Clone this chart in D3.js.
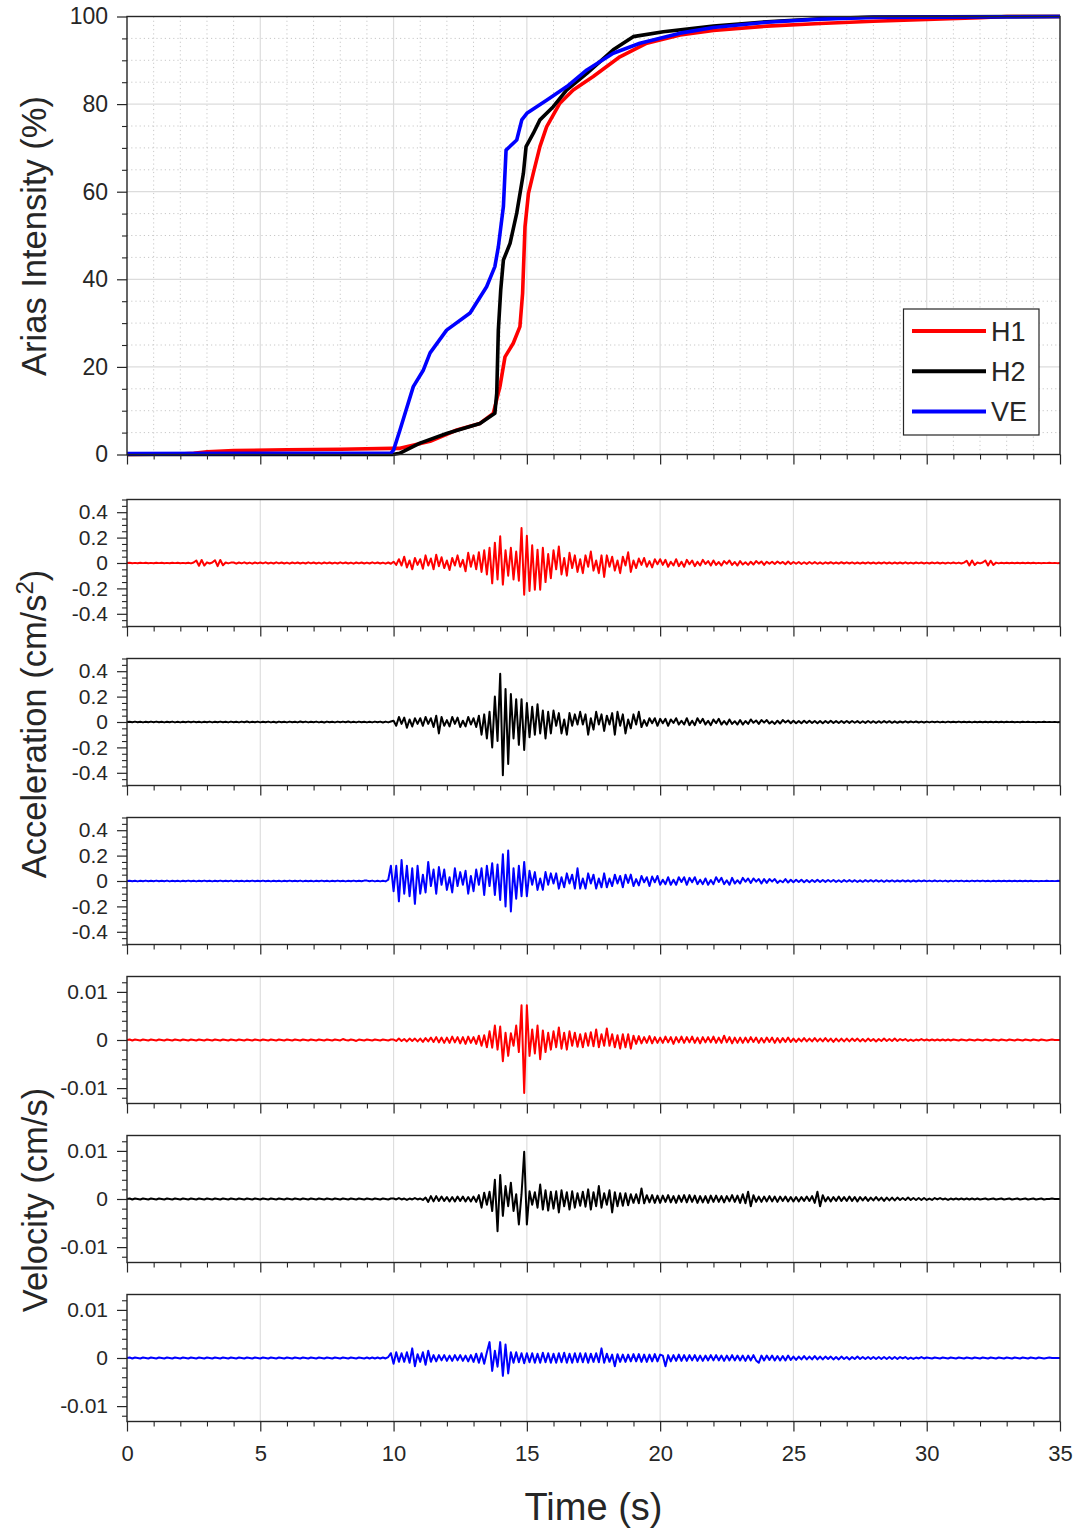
<!DOCTYPE html>
<html><head><meta charset="utf-8">
<script src="https://cdn.jsdelivr.net/npm/d3@7"></script>
<style>body{margin:0;background:#fff}svg{display:block}text{font-family:"Liberation Sans",Arial,sans-serif;fill:#262626}</style>
</head><body><svg id="c" width="1076" height="1530"></svg>
<script>
// ---------- DATA ----------
const seriesNames = ["H1","H2","VE"];
const seriesColors = ["#ff0000","#000000","#0000ff"];
const xTicksMajor = [0,5,10,15,20,25,30,35];
const ariasTicks = [0,20,40,60,80,100];
const accTicks = [-0.4,-0.2,0,0.2,0.4];
const velTicks = [-0.01,0,0.01];

// Arias intensity (%) vs time (s)
const ariasH1T = [0,2.0,2.5,3.0,4.0,6,8,9.95,10.24,11.37,12.37,13.24,13.74,13.99,14.18,14.49,14.74,14.84,14.93,15.06,15.24,15.49,15.74,16.24,16.74,17.49,18.49,19.5,20.75,22,24,26,28,30,32,33,35];
const ariasH1V = [0,0.1,0.3,0.6,0.9,1.1,1.2,1.4,1.4,3.0,5.6,7.1,9.4,15.5,22.3,25.4,29.2,36.8,52,59.6,64.2,70.3,74.8,80.2,83.2,86.3,90.8,93.9,95.8,96.8,97.8,98.4,98.9,99.3,99.7,100,100];
const ariasH2T = [0,9.95,10.24,10.99,11.99,13.24,13.8,13.87,13.93,14.02,14.12,14.37,14.62,14.87,14.97,15.24,15.49,15.99,16.49,17.25,18.24,18.99,20.12,22,24,26,28,35];
const ariasH2V = [0,0,0.3,2.6,4.8,7.1,9.4,14,28.4,37.6,44.4,48.2,55.1,64.2,70.3,73.3,76.4,79.4,83.2,87,92.4,95.4,96.5,97.8,98.8,99.5,99.9,100];
const ariasVET = [0,9.9,10.0,10.24,10.74,11.12,11.37,11.99,12.87,13.49,13.8,13.93,14.12,14.22,14.62,14.81,15.0,15.74,16.5,17.25,18.24,19.24,20.75,22,24,26,28,35];
const ariasVEV = [0.2,0.3,1,5.6,15.5,19.3,23.2,28.4,32.3,38.3,42.9,47.4,56.6,69.5,71.8,76.4,77.9,80.9,84,87.8,91.6,93.9,96.2,97.5,98.7,99.4,99.8,100];

// Time series sampled every DT seconds starting at T0
const T0 = 0, DT = 0.1;
const accH1 = [
0,.002,-.002,.001,-.002,.002,-.001,.002,-.002,.001,
-.002,.002,-.001,.002,-.002,.001,-.002,.002,-.001,.002,
-.002,.001,-.002,.002,-.003,.004,.02,-.022,.024,-.02,
.005,-.004,.004,.022,-.025,.024,-.018,.004,-.003,.003,
.004,-.005,.004,-.003,.005,-.004,.003,-.005,.004,-.003,
.004,-.003,.005,-.004,.003,-.004,.005,-.003,.004,-.004,
.003,-.005,.004,-.003,.004,-.004,.003,-.004,.005,-.003,
.004,-.004,.003,-.005,.004,-.003,.004,-.004,.003,-.004,
.005,-.003,.004,-.004,.003,-.005,.004,-.003,.004,-.004,
.003,-.004,.005,-.003,.004,-.004,.003,-.005,.004,-.006,
.01,-.015,.03,-.02,.05,-.035,.02,-.05,.04,-.015,
.03,-.045,.06,-.02,.035,-.05,.065,-.025,.045,-.04,
.02,-.055,.04,-.02,.06,-.03,.025,-.065,.08,-.03,
.06,-.05,.085,-.07,.1,-.09,.12,-.16,.16,-.13,
.21,-.17,.1,-.1,.12,-.13,.09,-.14,.275,-.25,
.215,-.22,.14,-.21,.105,-.21,.12,-.15,.07,-.12,
.1,-.05,.13,-.09,.04,-.1,.08,-.04,.06,-.07,
.03,-.08,.06,-.03,.09,-.06,.02,-.08,.06,-.11,
.06,-.03,.05,-.06,.02,-.08,.05,-.02,.084,-.07,
.02,-.04,.035,-.015,.04,-.03,.015,-.035,.03,-.01,
.03,-.015,.025,-.03,.01,-.02,.03,-.025,.01,-.03,
.025,-.01,.02,-.025,.01,-.02,.025,-.008,.015,-.02,
.02,-.015,.008,-.02,.015,-.006,.02,-.015,.008,-.02,
.015,-.012,.006,-.015,.01,-.012,.015,-.005,.012,-.015,
.01,-.006,.01,-.008,.012,-.004,.008,-.01,.012,-.008,
.008,-.006,.008,-.008,.006,-.007,.008,-.006,.007,-.006,
.005,-.006,.005,-.004,.006,-.005,.004,-.005,.006,-.004,
.005,-.004,.005,-.005,.004,-.005,.004,-.004,.005,-.004,
.004,-.005,.004,-.004,.005,-.004,.004,-.005,.004,-.004,
.004,-.004,.005,-.004,.003,-.004,.004,-.003,.004,-.004,
.003,-.004,.004,-.003,.004,-.004,.003,-.004,.003,-.003,
.004,-.003,.003,-.004,.003,.018,-.02,.02,-.016,.004,
-.003,.004,.02,-.02,.018,-.015,.003,-.003,.002,-.002,
.002,-.002,.002,-.002,.002,-.002,.002,-.002,.002,-.002,
.002,-.002,.001,-.002,.001,-.001,.002,-.001,.001,-.001,
0];
const accH2 = [
0,.002,-.002,.003,-.002,.002,-.003,.002,-.002,.003,
-.002,.003,-.002,.002,-.003,.002,-.002,.003,-.003,.002,
-.003,.002,-.002,.003,-.002,.003,-.002,.002,-.003,.002,
-.002,.003,-.003,.002,-.002,.003,-.002,.002,-.003,.003,
-.002,.002,-.003,.003,-.002,.004,-.003,.002,-.002,.003,
-.003,.002,-.002,.003,-.003,.002,-.004,.003,-.002,.002,
-.003,.003,-.002,.002,-.003,.004,-.002,.003,-.003,.002,
-.002,.003,-.003,.002,-.004,.003,-.002,.002,-.003,.003,
-.002,.003,-.002,.004,-.003,.002,-.003,.003,-.002,.002,
-.003,.002,-.003,.003,-.002,.003,-.004,.003,-.003,.004,
.01,-.03,.04,-.015,.035,-.045,.02,-.035,.03,-.015,
.03,-.03,.04,-.015,.03,-.04,.05,-.09,.04,-.03,
.015,-.035,.04,-.015,.035,-.04,.01,-.035,.04,-.02,
.03,-.04,.05,-.1,.06,-.13,.08,-.2,.2,-.15,
.38,-.42,.26,-.33,.22,-.13,.18,-.18,.18,-.22,
.15,-.12,.12,-.1,.14,-.09,.09,-.13,.08,-.09,
.09,-.03,.07,-.09,.02,-.1,.07,-.03,.06,-.02,
.08,-.02,.06,-.1,.03,-.06,.08,-.02,.06,-.07,
.05,-.02,.07,-.1,.08,-.03,.06,-.09,.02,-.05,
.06,-.02,.08,-.04,.015,-.03,.03,-.01,.03,-.03,
.025,-.01,.025,-.03,.02,-.008,.03,-.02,.01,-.02,
.03,-.025,.01,-.025,.03,-.008,.025,-.02,.01,-.025,
.02,-.01,.025,-.02,.008,-.02,.02,-.015,.006,-.02,
.015,-.02,.008,-.015,.02,-.006,.012,-.015,.015,-.005,
.015,-.012,.005,-.015,.01,-.012,.015,-.004,.012,-.01,
.01,-.01,.008,-.01,.01,-.008,.01,-.008,.008,-.01,
.008,-.01,.008,-.008,.01,-.008,.007,-.008,.008,-.007,
.008,-.007,.008,-.006,.007,-.008,.006,-.007,.008,-.006,
.006,-.007,.006,-.006,.007,-.005,.006,-.006,.005,-.006,
.004,-.004,.005,-.004,.004,-.003,.004,-.004,.003,-.004,
.003,-.003,.003,-.002,.003,-.003,.002,-.003,.003,-.002,
.002,-.002,.003,-.002,.002,-.002,.002,-.003,.002,-.002,
.002,-.002,.002,-.002,.002,-.002,.002,-.002,.002,-.002,
.002,-.001,.002,-.002,.001,-.002,.002,-.001,.002,-.001,
.001,-.002,.001,-.001,.002,-.001,.001,-.001,.001,-.001,
0];
const accVE = [
0,.002,-.002,.002,-.003,.002,-.002,.003,-.002,.002,
-.002,.003,-.002,.002,-.002,.003,-.003,.002,-.002,.002,
-.003,.002,-.002,.003,-.002,.002,-.003,.002,-.002,.003,
-.002,.002,-.003,.002,-.002,.003,-.002,.002,-.002,.003,
-.003,.002,-.002,.002,-.003,.002,-.002,.003,-.002,.002,
-.002,.003,-.002,.002,-.003,.002,-.002,.002,-.003,.002,
-.002,.003,-.002,.002,-.002,.003,-.003,.002,-.002,.002,
-.003,.002,-.002,.003,-.002,.002,-.003,.002,-.002,.003,
-.002,.002,-.003,.002,-.002,.003,-.002,.002,-.002,.003,
.003,-.002,.003,-.003,.002,-.003,.002,-.003,.01,.12,
-.08,.12,-.16,.165,-.1,.12,-.12,.1,-.18,.12,
-.1,.05,-.09,.15,-.04,.09,-.1,.11,-.03,.09,
-.07,.03,-.09,.1,-.04,.07,-.03,.08,-.1,.04,
-.08,.09,-.03,.1,-.11,.12,-.04,.14,-.11,.13,
-.15,.21,-.2,.24,-.24,.1,-.14,.12,-.12,.15,
-.12,.08,-.03,.07,-.07,.02,-.07,.07,-.03,.06,
-.02,.06,-.06,.03,-.05,.06,-.02,.05,-.06,.1,
-.06,.02,-.06,.06,-.02,.05,-.06,.02,-.05,.06,
-.05,.02,-.04,.05,-.02,.04,-.05,.05,-.015,.05,
-.04,.015,-.035,.04,-.01,.03,-.04,.035,-.01,.04,
-.03,.01,-.025,.03,-.03,.01,-.03,.03,-.008,.03,
-.03,.025,-.01,.03,-.025,.01,-.025,.02,-.03,.008,
-.025,.03,-.008,.025,-.025,.006,-.03,.025,-.02,.006,
-.02,.025,-.006,.02,-.015,.02,-.005,.015,-.02,.015,
-.015,.015,-.005,.015,-.015,.004,-.01,.015,-.012,.01,
-.01,.01,-.008,.01,-.01,.008,-.01,.008,-.008,.01,
-.008,.008,-.007,.008,-.006,.008,-.007,.006,-.008,.007,
-.006,.007,-.006,.006,-.007,.005,-.006,.006,-.005,.006,
-.005,.006,-.005,.005,-.006,.005,-.004,.005,-.005,.004,
-.004,.005,-.004,.004,-.005,.004,-.004,.004,-.003,.004,
-.003,.003,-.003,.004,-.003,.003,-.003,.003,-.004,.003,
-.003,.003,-.002,.003,-.003,.002,-.003,.003,-.002,.003,
-.002,.003,-.002,.002,-.003,.002,-.002,.002,-.002,.002,
-.002,.002,-.002,.002,-.002,.002,-.002,.002,-.002,.002,
-.002,.001,-.002,.001,-.001,.002,-.001,.001,-.001,.001,
0];
const velH1 = [
0,.0001,-.0001,.0001,0,-.0001,.0001,0,-.0001,.0001,
0,-.0001,.0001,0,-.0001,.0001,0,-.0001,.0001,0,
-.0001,.0001,0,-.0001,.0001,0,-.0001,.0001,0,-.0001,
.0001,0,-.0001,.0001,0,-.0001,.0001,0,-.0001,.0001,
0,-.0001,.0001,0,-.0001,.0001,0,-.0001,.0001,0,
-.0001,.0001,0,-.0001,.0001,0,-.0001,.0001,0,-.0001,
.0001,0,-.0001,.0001,0,-.0001,.0001,0,-.0001,.0001,
0,-.0001,.0001,0,-.0001,.0001,0,-.0001,.0001,0,
-.0001,.0002,0,-.0001,.0001,0,-.0002,.0001,0,-.0001,
.0001,0,-.0001,.0001,0,-.0001,.0001,0,-.0001,.0001,
.0001,-.0002,.0003,-.0002,.0002,-.0003,.0003,-.0002,.0003,-.0003,
.0003,-.0004,.0004,-.0003,.0005,-.0004,.0006,-.0005,.0005,-.0006,
.0005,-.0006,.0007,-.0005,.0006,-.0007,.0006,-.0008,.0007,-.0006,
.0006,-.0008,.0009,-.0012,.001,-.0015,.0018,-.0016,.003,-.002,
.0028,-.0044,.0015,-.0033,.0014,-.0012,.003,-.0025,.0072,-.011,
.0072,-.0033,.0022,-.0028,.003,-.004,.002,-.0025,.0015,-.002,
.0018,-.0015,.0026,-.0018,.0015,-.002,.0018,-.0012,.0015,-.0014,
.0012,-.0015,.0014,-.0012,.0016,-.0013,.0022,-.0015,.0012,-.0012,
.0024,-.0012,.0012,-.0015,.001,-.0018,.0012,-.0015,.0012,-.0018,
.0009,-.0008,.0008,-.0007,.0006,-.0006,.0008,-.0007,.0006,-.0006,
.0005,-.0006,.0007,-.0005,.0006,-.0008,.0006,-.0005,.0007,-.0006,
.0006,-.0005,.0007,-.0006,.0005,-.0007,.0006,-.0005,.0006,-.0005,
.0007,-.0006,.0005,-.0006,.0009,-.0005,.0006,-.0007,.0005,-.0006,
.0005,-.0006,.0005,-.0005,.0006,-.0004,.0005,-.0006,.0004,-.0005,
.0005,-.0004,.0005,-.0006,.0004,-.0005,.0004,-.0004,.0005,-.0004,
.0003,-.0004,.0003,-.0003,.0004,-.0003,.0003,-.0003,.0004,-.0003,
.0003,-.0003,.0004,-.0003,.0003,-.0004,.0003,-.0003,.0003,-.0003,
.0003,-.0003,.0003,-.0002,.0003,-.0003,.0002,-.0003,.0003,-.0002,
.0002,-.0003,.0002,-.0002,.0003,-.0002,.0002,-.0002,.0003,-.0002,
.0002,-.0001,.0002,-.0002,.0001,-.0002,.0001,-.0001,.0002,-.0001,
.0001,-.0001,.0001,-.0001,.0001,-.0001,.0001,-.0001,.0001,-.0001,
.0001,0,-.0001,.0001,0,-.0001,.0001,0,-.0001,.0001,
0,-.0001,.0001,0,-.0001,.0001,0,-.0001,.0001,0,
-.0001,.0001,0,-.0001,.0001,0,-.0001,.0001,0,-.0001,
.0001,0,-.0001,.0001,0,-.0001,0,.0001,0,0,
0];
const velH2 = [
0,.0001,-.0001,.0001,0,-.0001,.0001,0,-.0001,.0001,
0,-.0001,.0001,0,-.0001,.0001,0,-.0001,.0001,0,
-.0001,.0001,0,-.0001,.0001,0,-.0001,.0001,0,-.0001,
.0001,0,-.0001,.0001,0,-.0001,.0001,0,-.0001,.0001,
0,-.0001,.0001,0,-.0001,.0001,0,-.0001,.0001,0,
-.0001,.0001,0,-.0001,.0001,0,-.0001,.0001,0,-.0001,
.0001,0,-.0001,.0001,0,-.0001,.0001,0,-.0001,.0001,
0,-.0001,.0001,0,-.0001,.0001,0,-.0001,.0001,0,
-.0001,.0001,0,-.0001,.0001,0,-.0001,.0001,0,-.0001,
.0001,0,-.0001,.0001,0,-.0001,.0001,0,-.0001,.0001,
.0001,-.0001,.0002,-.0001,.0001,-.0002,.0001,-.0001,.0002,-.0001,
.0001,-.0002,.0003,-.0006,.0006,-.0005,.0006,-.0004,.0005,-.0004,
.0004,-.0005,.0004,-.0005,.0005,-.0004,.0005,-.0005,.0004,-.0005,
.0005,-.0006,.0008,-.0018,.0013,-.0012,.0015,-.0025,.004,-.0067,
.005,-.0035,.0027,-.0015,.0034,-.0025,.001,-.0053,.001,.0098,
-.0053,.0016,-.0012,.0014,-.0018,.003,-.0022,.0018,-.0024,.0015,
-.002,.0016,-.0028,.0018,-.0015,.0014,-.0022,.0016,-.0018,.0012,
-.0014,.0015,-.0016,.002,-.0022,.0014,-.0015,.0027,-.0018,.0012,
-.0012,.0018,-.0028,.0014,-.0015,.0012,-.0014,.0012,-.0013,.001,
-.0008,.001,-.0009,.0022,-.0009,.0008,-.0007,.0008,-.0008,.0007,
-.0008,.0007,-.0006,.0008,-.0007,.0006,-.0008,.0007,-.0006,.0008,
-.0007,.0008,-.0006,.0007,-.0008,.0006,-.0007,.0006,-.0008,.0007,
-.0006,.0007,-.0006,.0006,-.0007,.0006,-.0005,.0008,-.0006,.0007,
-.0008,.001,-.0009,.0015,-.0015,.0008,-.0006,.0005,-.0006,.0005,
-.0005,.0006,-.0005,.0005,-.0006,.0005,-.0004,.0005,-.0005,.0004,
-.0005,.0004,-.0005,.0004,-.0004,.0005,-.0004,.0006,-.0008,.0015,
-.0015,.0008,-.0005,.0004,-.0005,.0004,-.0004,.0005,-.0004,.0004,
-.0004,.0005,-.0004,.0004,-.0005,.0004,-.0003,.0004,-.0004,.0003,
-.0003,.0004,-.0003,.0003,-.0004,.0003,-.0003,.0003,-.0003,.0003,
-.0002,.0002,-.0002,.0003,-.0002,.0002,-.0002,.0002,-.0002,.0002,
-.0002,.0001,-.0002,.0002,-.0001,.0002,-.0001,.0001,-.0002,.0001,
-.0001,.0001,-.0001,.0001,-.0001,.0001,-.0001,.0001,-.0001,.0001,
-.0001,0,.0001,-.0001,0,.0001,-.0001,0,.0001,-.0001,
0,.0001,-.0001,0,.0001,-.0001,0,.0001,-.0001,0,
.0001,-.0001,0,.0001,-.0001,0,0,.0001,0,0,
0];
const velVE = [
0,.0001,-.0001,.0001,0,-.0001,.0001,0,-.0001,.0001,
0,-.0001,.0001,0,-.0001,.0001,0,-.0001,.0001,0,
-.0001,.0001,0,-.0001,.0001,0,-.0001,.0001,0,-.0001,
.0001,0,-.0001,.0001,0,-.0001,.0001,0,-.0001,.0001,
0,-.0001,.0001,0,-.0001,.0001,0,-.0001,.0001,0,
-.0001,.0001,0,-.0001,.0001,0,-.0001,.0001,0,-.0001,
.0001,0,-.0001,.0001,0,-.0001,.0001,0,-.0001,.0001,
0,-.0001,.0001,0,-.0001,.0001,0,-.0001,.0001,0,
-.0001,.0001,0,-.0001,.0001,0,-.0001,.0001,0,-.0001,
.0001,-.0001,.0001,-.0001,.0001,-.0001,.0001,-.0001,.0002,.001,
-.0012,.0012,-.0008,.001,-.0008,.0012,-.001,.002,-.0017,.0008,
-.0008,.0012,-.0014,.0015,-.0008,.0006,-.0007,.0006,-.0005,.0006,
-.0006,.0005,-.0006,.0006,-.0005,.0006,-.0006,.0005,-.0007,.0006,
-.0008,.0009,-.001,.001,-.0012,.0012,.0033,-.0027,.0015,-.0018,
.0033,-.0037,.0028,-.0032,.0012,-.001,.0012,-.0009,.001,-.0011,
.001,-.0009,.001,-.001,.0009,-.001,.0011,-.0009,.001,-.001,
.0009,-.001,.001,-.0009,.0011,-.001,.0009,-.001,.001,-.0009,
.001,-.0009,.001,-.001,.0009,-.0008,.001,-.0009,.002,-.001,
.0009,-.0008,.0007,-.0017,.0008,-.0008,.0007,-.0008,.0007,-.0007,
.0008,-.0007,.0008,-.0008,.0007,-.0008,.0007,-.0007,.0008,-.0007,
.0007,.0005,-.0017,.0006,-.0007,.0006,-.0006,.0007,-.0006,.0006,
-.0006,.0006,-.0005,.0006,-.0006,.0005,-.0006,.0005,-.0005,.0006,
-.0005,.0006,-.0005,.0005,-.0006,.0005,-.0005,.0006,-.0005,.0005,
-.0005,.0005,-.0006,.0005,-.0005,.0006,-.0005,-.001,.0005,-.0005,
.0005,-.0004,.0005,-.0005,.0004,-.0005,.0004,-.0005,.0005,-.0004,
.0003,-.0004,.0003,-.0003,.0004,-.0003,.0003,-.0003,.0004,-.0003,
.0003,-.0003,.0003,-.0002,.0003,-.0003,.0002,-.0003,.0003,-.0002,
.0002,-.0003,.0002,-.0002,.0003,-.0002,.0002,-.0002,.0002,-.0002,
.0002,-.0002,.0002,-.0002,.0002,-.0002,.0002,-.0002,.0002,-.0002,
.0002,-.0001,.0002,-.0002,.0001,-.0002,.0001,-.0001,.0002,-.0001,
.0001,0,-.0001,.0001,0,-.0001,.0001,0,-.0001,.0001,
0,-.0001,.0001,0,-.0001,.0001,0,-.0001,.0001,0,
-.0001,.0001,0,-.0001,.0001,0,-.0001,.0001,0,-.0001,
.0001,0,-.0001,.0001,0,-.0001,.0001,0,-.0001,.0001,
0,-.0001,.0001,0,-.0001,0,.0001,0,0,0,
0];

// ---------- DRAWING ----------
const svg = d3.select("#c");
const X0 = 127, X1 = 1060;
const x = d3.scaleLinear().domain([0,35]).range([X0,X1]);
const xMinor = d3.range(0,36).filter(v => v % 5 !== 0);
const ink = "#262626";

function drawAxes(g, y, yMajor, yMinor, yFmt, yFont, top, h, showXLabels){
  const ay = g.append("g").attr("transform",`translate(${X0},0)`)
    .call(d3.axisLeft(y).tickValues(yMajor).tickSize(10).tickSizeOuter(0).tickPadding(9).tickFormat(yFmt));
  ay.select(".domain").remove();
  ay.selectAll("line").attr("stroke",ink).attr("stroke-width",1.2);
  ay.selectAll("text").attr("font-size",yFont).attr("fill",ink).style("font-family",'"Liberation Sans",Arial,sans-serif');
  const ayM = g.append("g").attr("transform",`translate(${X0},0)`)
    .call(d3.axisLeft(y).tickValues(yMinor).tickSize(5).tickSizeOuter(0).tickFormat(""));
  ayM.select(".domain").remove();
  ayM.selectAll("line").attr("stroke",ink).attr("stroke-width",1.1);

  const ax = g.append("g").attr("transform",`translate(0,${top+h})`)
    .call(d3.axisBottom(x).tickValues(xTicksMajor).tickSize(10).tickSizeOuter(0).tickPadding(14)
      .tickFormat(showXLabels ? d3.format("d") : ""));
  ax.select(".domain").remove();
  ax.selectAll("line").attr("stroke",ink).attr("stroke-width",1.2);
  ax.selectAll("text").attr("font-size",22).attr("fill",ink).style("font-family",'"Liberation Sans",Arial,sans-serif');
  const axM = g.append("g").attr("transform",`translate(0,${top+h})`)
    .call(d3.axisBottom(x).tickValues(xMinor).tickSize(5).tickSizeOuter(0).tickFormat(""));
  axM.select(".domain").remove();
  axM.selectAll("line").attr("stroke",ink).attr("stroke-width",1.1);

  g.append("rect").attr("x",X0).attr("y",top).attr("width",X1-X0).attr("height",h)
    .attr("fill","none").attr("stroke",ink).attr("stroke-width",1.4);
}

// ---- Arias panel ----
const aTop = 16.5, aH = 438;
const ya = d3.scaleLinear().domain([0,100]).range([aTop+aH,aTop]);
const gA = svg.append("g");
gA.append("g").selectAll("line").data(xMinor).join("line")
  .attr("x1",d=>x(d)).attr("x2",d=>x(d)).attr("y1",aTop).attr("y2",aTop+aH)
  .attr("stroke","#c8c8c8").attr("stroke-width",1).attr("stroke-dasharray","1.2,3");
const yaMinor = d3.range(0,101,5).filter(v=>v%20!==0);
gA.append("g").selectAll("line").data(yaMinor).join("line")
  .attr("x1",X0).attr("x2",X1).attr("y1",d=>ya(d)).attr("y2",d=>ya(d))
  .attr("stroke","#c8c8c8").attr("stroke-width",1).attr("stroke-dasharray","1.2,3");
gA.append("g").selectAll("line").data(xTicksMajor.slice(1,-1)).join("line")
  .attr("x1",d=>x(d)).attr("x2",d=>x(d)).attr("y1",aTop).attr("y2",aTop+aH)
  .attr("stroke","#dcdcdc").attr("stroke-width",1.2);
gA.append("g").selectAll("line").data(ariasTicks.slice(1,-1)).join("line")
  .attr("x1",X0).attr("x2",X1).attr("y1",d=>ya(d)).attr("y2",d=>ya(d))
  .attr("stroke","#dcdcdc").attr("stroke-width",1.2);

const ariasSets = [[ariasH1T,ariasH1V],[ariasH2T,ariasH2V],[ariasVET,ariasVEV]];
const lineA = d3.line().x(d=>x(d[0])).y(d=>ya(d[1]));
ariasSets.forEach((s,i)=>{
  const pts = s[0].map((t,k)=>[t,s[1][k]]);
  gA.append("path").datum(pts).attr("d",lineA).attr("fill","none")
    .attr("stroke",seriesColors[i]).attr("stroke-width",3.6).attr("stroke-linejoin","round");
});
drawAxes(gA, ya, ariasTicks, yaMinor, d3.format("d"), 23, aTop, aH, false);

// legend
const lg = svg.append("g");
lg.append("rect").attr("x",903.5).attr("y",309).attr("width",135.5).attr("height",126)
  .attr("fill","#fff").attr("stroke",ink).attr("stroke-width",1.2);
seriesNames.forEach((n,i)=>{
  const yy = 331 + i*40.3;
  lg.append("line").attr("x1",912).attr("x2",986).attr("y1",yy).attr("y2",yy)
    .attr("stroke",seriesColors[i]).attr("stroke-width",4);
  lg.append("text").attr("x",991).attr("y",yy).attr("dy","0.36em").attr("font-size",27).text(n);
});

// ---- time-series panels ----
const PH = 127;
const accTops = [499.5,658.5,817.5];
const velTops = [976.5,1135.5,1294.5];
const accData = [accH1,accH2,accVE];
const velData = [velH1,velH2,velVE];
const accMinor = d3.range(-10,11).map(k=>k*0.05).filter(v=>Math.abs(Math.round(v*100)%20)!==0);
const velMinor = d3.range(-6,7).map(k=>k*0.002).filter(v=>Math.abs(Math.round(v*1000))%10!==0);

function tsPanel(top, domain, data, color, yMajor, yMinor, fmt, last){
  const g = svg.append("g");
  const y = d3.scaleLinear().domain(domain).range([top+PH, top]);
  g.append("g").selectAll("line").data(xTicksMajor.slice(1,-1)).join("line")
    .attr("x1",d=>x(d)).attr("x2",d=>x(d)).attr("y1",top).attr("y2",top+PH)
    .attr("stroke","#dedede").attr("stroke-width",1.2);
  const pts = data.map((v,i)=>[T0+i*DT, v]);
  g.append("path").datum(pts)
    .attr("d", d3.line().x(d=>x(d[0])).y(d=>y(d[1])))
    .attr("fill","none").attr("stroke",color).attr("stroke-width",2).attr("stroke-linejoin","round");
  drawAxes(g, y, yMajor, yMinor, fmt, 21, top, PH, last);
}
// hyphen-minus labels as in the reference
const accFmt = d => d===0 ? "0" : d3.format(".1f")(d).replace("\u2212","-");
const velFmt = d => d===0 ? "0" : d3.format(".2f")(d).replace("\u2212","-");
accTops.forEach((t,i)=> tsPanel(t,[-0.5,0.5],accData[i],seriesColors[i],accTicks,accMinor,accFmt,false));
velTops.forEach((t,i)=> tsPanel(t,[-0.0132,0.0132],velData[i],seriesColors[i],velTicks,velMinor,velFmt,i===2));

// ---- axis titles ----
function yTitle(cx, cy){
  return svg.append("text").attr("transform",`translate(${cx},${cy}) rotate(-90)`)
    .attr("text-anchor","middle").attr("font-size",34.5);
}
yTitle(46,236).text("Arias Intensity (%)");
const tAcc = yTitle(46,724);
tAcc.append("tspan").text("Acceleration (cm/s");
tAcc.append("tspan").attr("font-size",24).attr("dy",-13).text("2");
tAcc.append("tspan").attr("dy",13).text(")");
yTitle(47,1200).text("Velocity (cm/s)");
svg.append("text").attr("x",593.5).attr("y",1520).attr("text-anchor","middle")
  .attr("font-size",38).text("Time (s)");
</script></body></html>
